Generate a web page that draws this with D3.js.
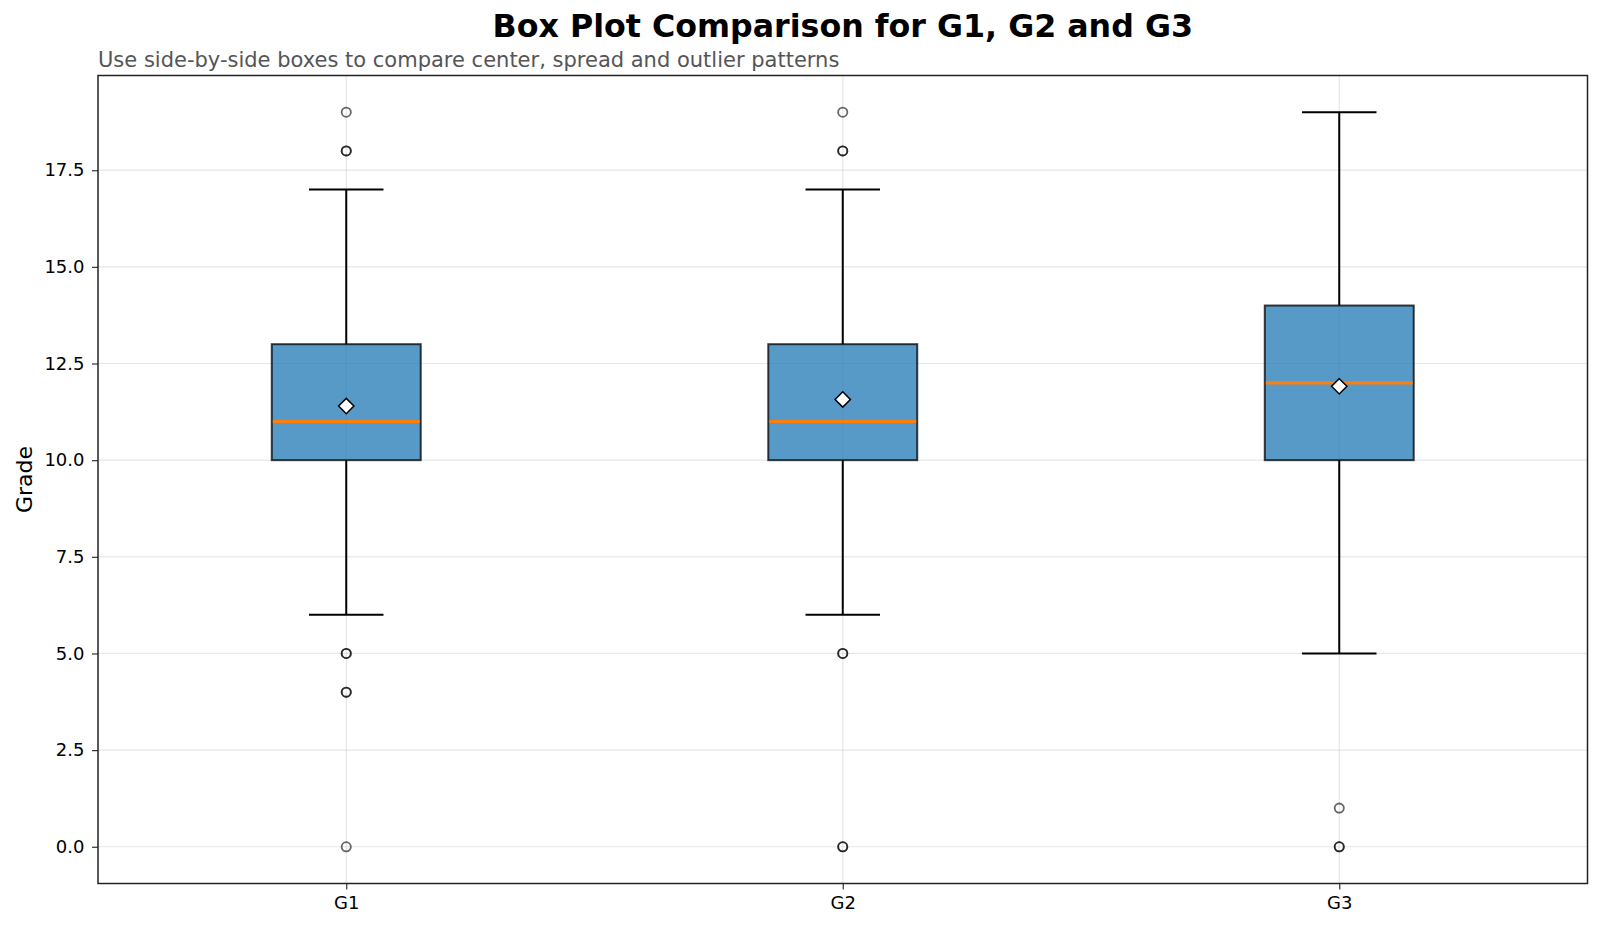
<!DOCTYPE html>
<html><head><meta charset="utf-8">
<script src="https://cdn.jsdelivr.net/npm/d3@7"></script>
<style>body{margin:0;background:#fff;} svg{display:block;font-family:"DejaVu Sans",sans-serif;}</style>
</head><body><svg id="c" width="1600" height="928"></svg>
<script>
const categories = ["G1","G2","G3"];
const q1 = [10,10,10];
const medians = [11,11,12];
const q3 = [13,13,14];
const whiskerLow = [6,6,5];
const whiskerHigh = [17,17,19];
const means = [11.40,11.57,11.91];
const outliersG1 = [19,18,18,5,5,4,4,0];
const outliersG2 = [19,18,18,5,5,0,0];
const outliersG3 = [1,0,0];
const outliers = [outliersG1,outliersG2,outliersG3];
const yTicks = [0,2.5,5,7.5,10,12.5,15,17.5];

const m={l:98,r:1587.5,t:75.5,b:883.5};
const svg=d3.select("#c");
const x=d3.scaleLinear().domain([0.5,3.5]).range([m.l,m.r]);
const y=d3.scaleLinear().domain([-0.95,19.95]).range([m.b,m.t]);
const bw = x(1.15)-x(0.85);
const cw = x(1.075)-x(0.925);

const g=svg.append("g");
g.selectAll(".gy").data(yTicks).join("line").attr("x1",m.l).attr("x2",m.r)
 .attr("y1",d=>y(d)).attr("y2",d=>y(d)).attr("stroke","#b0b0b0").attr("stroke-opacity",0.3).attr("stroke-width",1.2);
g.selectAll(".gx").data(categories).join("line").attr("y1",m.t).attr("y2",m.b)
 .attr("x1",(d,i)=>x(i+1)).attr("x2",(d,i)=>x(i+1)).attr("stroke","#b0b0b0").attr("stroke-opacity",0.3).attr("stroke-width",1.2);

const boxes=svg.append("g");
categories.forEach((c,i)=>{
  const cx=x(i+1);
  const gg=boxes.append("g");
  gg.append("line").attr("x1",cx).attr("x2",cx).attr("y1",y(q1[i])).attr("y2",y(whiskerLow[i])).attr("stroke","#000").attr("stroke-width",2);
  gg.append("line").attr("x1",cx).attr("x2",cx).attr("y1",y(q3[i])).attr("y2",y(whiskerHigh[i])).attr("stroke","#000").attr("stroke-width",2);
  gg.append("line").attr("x1",cx-cw/2).attr("x2",cx+cw/2).attr("y1",y(whiskerLow[i])).attr("y2",y(whiskerLow[i])).attr("stroke","#000").attr("stroke-width",2);
  gg.append("line").attr("x1",cx-cw/2).attr("x2",cx+cw/2).attr("y1",y(whiskerHigh[i])).attr("y2",y(whiskerHigh[i])).attr("stroke","#000").attr("stroke-width",2);
  gg.append("rect").attr("x",cx-bw/2).attr("width",bw).attr("y",y(q3[i])).attr("height",y(q1[i])-y(q3[i]))
    .attr("fill","#1f77b4").attr("fill-opacity",0.75).attr("stroke","#000").attr("stroke-opacity",0.75).attr("stroke-width",2);
  gg.append("line").attr("x1",cx-bw/2+1).attr("x2",cx+bw/2-1).attr("y1",y(medians[i])).attr("y2",y(medians[i])).attr("stroke","#ff7f0e").attr("stroke-width",3.2);
  gg.selectAll("circle").data(outliers[i]).join("circle").attr("cx",cx).attr("cy",d=>y(d)).attr("r",4.6)
    .attr("fill","none").attr("stroke","#000").attr("stroke-opacity",0.6).attr("stroke-width",1.8);
  const my=y(means[i]);
  gg.append("path").attr("d",d3.symbol(d3.symbolDiamond2,150)()).attr("transform",`translate(${cx},${my})`)
    .attr("fill","#fff").attr("stroke","#000").attr("stroke-width",1.5);
});

const ya=svg.append("g").attr("transform",`translate(${m.l},0)`)
 .call(d3.axisLeft(y).tickValues(yTicks).tickFormat(d3.format(".1f")).tickSize(6).tickPadding(7.5));
const xa=svg.append("g").attr("transform",`translate(0,${m.b})`)
 .call(d3.axisBottom(x).tickValues([1,2,3]).tickFormat((d)=>categories[d-1]).tickSize(6).tickPadding(7));
[ya,xa].forEach(a=>{a.select(".domain").remove();a.selectAll("text").attr("font-size",18).attr("fill","#000").attr("font-family","DejaVu Sans");
  a.selectAll("line").attr("stroke","#333").attr("stroke-width",1.2);});

svg.append("rect").attr("x",m.l).attr("y",m.t).attr("width",m.r-m.l).attr("height",m.b-m.t)
 .attr("fill","none").attr("stroke","#222").attr("stroke-width",1.5);

svg.append("text").attr("x",(m.l+m.r)/2).attr("y",37).attr("text-anchor","middle").attr("font-weight","bold").attr("font-size",31.7).text("Box Plot Comparison for G1, G2 and G3");
svg.append("text").attr("x",m.l).attr("y",67).attr("font-size",21).attr("fill","#555").text("Use side-by-side boxes to compare center, spread and outlier patterns");
svg.append("text").attr("transform",`translate(32,${(m.t+m.b)/2}) rotate(-90)`).attr("text-anchor","middle").attr("font-size",22).attr("fill","#000").text("Grade");
</script></body></html>
